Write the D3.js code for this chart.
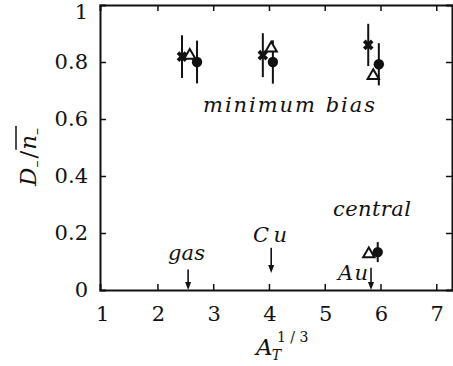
<!DOCTYPE html>
<html>
<head>
<meta charset="utf-8">
<script src="https://cdn.jsdelivr.net/npm/d3@7"></script>
<style>
  body { margin: 0; background: #fff; }
  svg { display: block; }
</style>
</head>
<body>
<div id="container"></div>
<script>
// data
const xTicks = [1, 2, 3, 4, 5, 6, 7];
const yTicks = [0, 0.2, 0.4, 0.6, 0.8, 1];
const yTickLabels = ['0', '0.2', '0.4', '0.6', '0.8', '1'];

// minimum bias
const crossX = [2.44, 3.89, 5.78];
const crossY = [0.819, 0.824, 0.86];
const crossErr = [0.075, 0.077, 0.074];
const triX = [2.58, 4.04, 5.87];
const triY = [0.826, 0.852, 0.755];
const circX = [2.71, 4.07, 5.97];
const circY = [0.8, 0.8, 0.792];
const circErr = [0.075, 0.076, 0.074];

// central
const centralTriX = [5.79];
const centralTriY = [0.13];
const centralCircX = [5.95];
const centralCircY = [0.133];
const centralCircErr = [0.035];

// target arrows
const targets = ['gas', 'Cu', 'Au'];
const arrowX = [2.55, 4.04, 5.83];
const arrowTop = [0.072, 0.148, 0.078];
const arrowTip = [0, 0.06, 0];

const W = 453, H = 366;
const margin = { top: 5, right: 0, bottom: 76, left: 100 };
const FONT = 'DejaVu Serif';

const svg = d3.select('#container')
  .append('svg')
  .attr('width', W)
  .attr('height', H);

const x = d3.scaleLinear().domain([0.97, 7.3]).range([margin.left, W - margin.right]);
const y = d3.scaleLinear().domain([0, 1]).range([H - margin.bottom, margin.top]);

// axes (ticks inward on all four sides)
const tick = 6;
const axisG = svg.append('g');
axisG.append('g')
  .attr('transform', `translate(0,${y(0)})`)
  .call(d3.axisBottom(x).tickValues(xTicks.slice(1)).tickSize(-tick).tickFormat(''));
axisG.append('g')
  .attr('transform', `translate(0,${y(1)})`)
  .call(d3.axisTop(x).tickValues(xTicks.slice(1)).tickSize(-tick).tickFormat(''));
axisG.append('g')
  .attr('transform', `translate(${x(0.97)},0)`)
  .call(d3.axisLeft(y).tickValues(yTicks.slice(1, -1)).tickSize(-tick).tickFormat(''));
axisG.append('g')
  .attr('transform', `translate(${W - 1},0)`)
  .call(d3.axisRight(y).tickValues(yTicks.slice(1, -1)).tickSize(-tick).tickFormat(''));
axisG.selectAll('.domain').attr('stroke', '#111').attr('stroke-width', 2);
axisG.selectAll('.tick line').attr('stroke', '#111').attr('stroke-width', 1.5);

// all text in a serif group
const txt = svg.append('g')
  .attr('font-family', FONT)
  .attr('fill', '#111');

// tick labels
txt.append('g').selectAll('text')
  .data(xTicks)
  .join('text')
  .attr('x', d => x(d) + 1)
  .attr('y', 321)
  .attr('text-anchor', 'middle')
  .attr('font-size', 21)
  .text(d => d);

txt.append('g').selectAll('text')
  .data(yTicks)
  .join('text')
  .attr('x', 88)
  .attr('y', d => Math.max(y(d), 12) + 7)
  .attr('text-anchor', 'end')
  .attr('font-size', 21)
  .text((d, i) => yTickLabels[i]);

// axis titles
const xt = txt.append('text')
  .attr('x', 256)
  .attr('y', 355)
  .attr('font-size', 23);
xt.append('tspan').attr('font-style', 'italic').text('A');
xt.append('tspan').attr('font-style', 'italic').attr('font-size', 14).attr('dy', 5).attr('dx', -1).text('T');
xt.append('tspan').attr('font-size', 14).attr('dy', -18).attr('dx', -4).text('1 / 3');

const yt = txt.append('g').attr('transform', 'translate(36,186) rotate(-90)');
const ytext = yt.append('text').attr('x', 0).attr('y', 0).attr('font-size', 23);
ytext.append('tspan').attr('font-style', 'italic').text('D');
ytext.append('tspan').attr('font-size', 14).attr('dy', 5).text('\u2013');
ytext.append('tspan').attr('dy', -5).attr('dx', 2).text('/');
ytext.append('tspan').attr('font-style', 'italic').attr('dx', 1).text('n');
ytext.append('tspan').attr('font-size', 14).attr('dy', 5).text('\u2013');
// overline over n_-
const ytNode = ytext.node();
const nStart = ytNode.getStartPositionOfChar(3).x;
const nEnd = ytNode.getEndPositionOfChar(4).x;
yt.append('line')
  .attr('x1', nStart).attr('x2', nEnd + 2)
  .attr('y1', -20).attr('y2', -20)
  .attr('stroke', '#111').attr('stroke-width', 1.5);

// annotations
const note = (tx, ty, s, len) => txt.append('text')
  .attr('font-style', 'italic')
  .attr('x', tx).attr('y', ty)
  .attr('font-size', 21)
  .attr('textLength', len)
  .attr('lengthAdjust', 'spacing')
  .text(s);
note(203, 112, 'minimum bias', 172);
note(333, 216, 'central', 78);
note(168, 260, 'gas', 37);
note(253, 242, 'Cu', 34);
note(338, 280, 'Au', 30);

// error bars
const errBars = (xs, ys, es) => svg.append('g').selectAll('line')
  .data(xs)
  .join('line')
  .attr('x1', d => x(d)).attr('x2', d => x(d))
  .attr('y1', (d, i) => y(ys[i] + es[i]))
  .attr('y2', (d, i) => y(ys[i] - es[i]))
  .attr('stroke', '#111').attr('stroke-width', 2);

errBars(crossX, crossY, crossErr);
errBars(circX, circY, circErr);
errBars(centralCircX, centralCircY, centralCircErr);

// markers
const crossSym = d3.symbol().type(d3.symbolCross).size(70);
const triSym = d3.symbol().type(d3.symbolTriangle).size(55);

svg.append('g').selectAll('path')
  .data(crossX)
  .join('path')
  .attr('d', crossSym)
  .attr('transform', (d, i) => `translate(${x(d)},${y(crossY[i])}) rotate(45)`)
  .attr('fill', '#111');

const tris = (xs, ys) => svg.append('g').selectAll('path')
  .data(xs)
  .join('path')
  .attr('d', triSym)
  .attr('transform', (d, i) => `translate(${x(d)},${y(ys[i]) + 1})`)
  .attr('fill', '#fff')
  .attr('stroke', '#111')
  .attr('stroke-width', 2);
tris(triX, triY);
tris(centralTriX, centralTriY);

const circs = (xs, ys) => svg.append('g').selectAll('circle')
  .data(xs)
  .join('circle')
  .attr('cx', d => x(d))
  .attr('cy', (d, i) => y(ys[i]))
  .attr('r', 5.2)
  .attr('fill', '#111');
circs(circX, circY);
circs(centralCircX, centralCircY);

// target arrows
const arrows = svg.append('g').selectAll('g')
  .data(targets)
  .join('g');
arrows.append('line')
  .attr('x1', (d, i) => x(arrowX[i])).attr('x2', (d, i) => x(arrowX[i]))
  .attr('y1', (d, i) => y(arrowTop[i]))
  .attr('y2', (d, i) => y(arrowTip[i]) - 4)
  .attr('stroke', '#111').attr('stroke-width', 1.6);
arrows.append('path')
  .attr('d', (d, i) => {
    const ax = x(arrowX[i]), ay = y(arrowTip[i]);
    return `M${ax - 3},${ay - 8}L${ax + 3},${ay - 8}L${ax},${ay}Z`;
  })
  .attr('fill', '#111');
</script>
</body>
</html>
